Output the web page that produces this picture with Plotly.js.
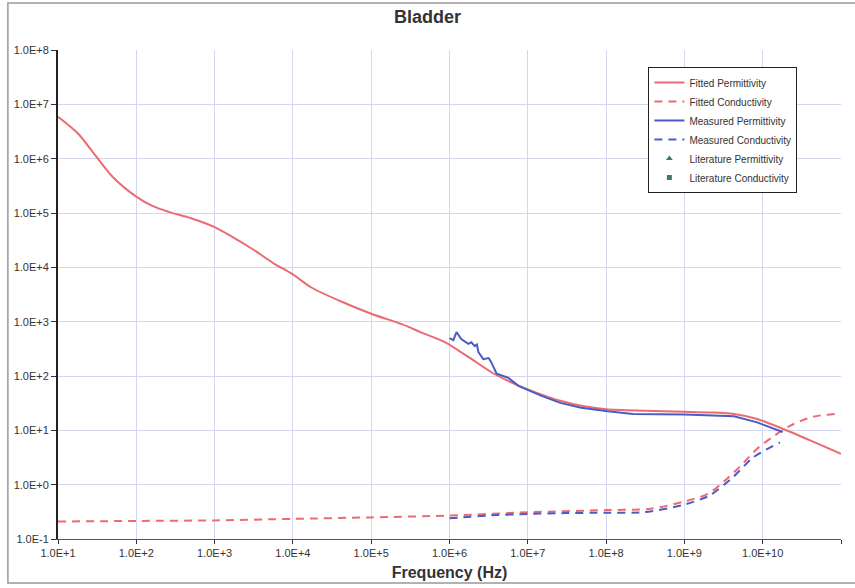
<!DOCTYPE html>
<html>
<head>
<meta charset="utf-8">
<script src="https://cdn.plot.ly/plotly-3.0.1.min.js"></script>
<style>html,body{margin:0;padding:0;background:#fff;}#chart{width:855px;height:588px;}</style>
</head>
<body>
<div id="chart"></div>
<script>
// Fitted permittivity (solid red)
const fitPermFreq = [10, 18, 30, 50, 100, 160, 260, 500, 1000, 1600, 3000, 5600, 1e4, 1.7e4, 4e4, 1e5, 2.5e5, 4.4e5, 8.7e5, 1.7e6, 3.7e6, 8.3e6, 1.6e7, 2.6e7, 5e7, 1e8, 3.2e8, 1e9, 2e9, 4.3e9, 8.5e9, 1.8e10, 4.4e10, 1e11];
const fitPerm = [5.9e6, 2.9e6, 1.15e6, 4.6e5, 2.0e5, 1.35e5, 1.05e5, 8.0e4, 5.5e4, 3.8e4, 2.2e4, 1.2e4, 7.4e3, 4.3e3, 2.4e3, 1.4e3, 890, 630, 420, 230, 110, 63, 44, 35, 28, 24.5, 23, 22, 21.4, 20, 16.2, 10.7, 6.2, 3.7];

// Fitted conductivity (dashed red)
const fitCondFreq = [10, 100, 1e3, 1e4, 1e5, 1e6, 1e7, 1e8, 3.7e8, 1e9, 2e9, 3.2e9, 5.2e9, 8.5e9, 1.4e10, 2.2e10, 4.4e10, 1e11];
const fitCond = [0.21, 0.215, 0.22, 0.235, 0.25, 0.27, 0.31, 0.34, 0.36, 0.49, 0.68, 1.15, 2.2, 4.6, 7.9, 12, 17.8, 20.5];

// Measured permittivity (solid blue)
const measPermFreq = [1e6, 1.12e6, 1.23e6, 1.32e6, 1.41e6, 1.74e6, 1.9e6, 2.1e6, 2.24e6, 2.34e6, 2.7e6, 3.16e6, 3.4e6, 4e6, 5.6e6, 7.6e6, 1.1e7, 1.5e7, 2.6e7, 4.8e7, 1.05e8, 2.2e8, 1e9, 4.3e9, 8.5e9, 1.8e10];
const measPerm = [500, 457, 645, 550, 480, 390, 417, 355, 380, 275, 204, 214, 182, 110, 93, 66, 52, 43, 32, 26, 22.4, 20, 19.5, 18.2, 14, 9.3];

// Measured conductivity (dashed blue)
const measCondFreq = [1e6, 1.5e6, 3e6, 1e7, 3e7, 1e8, 3e8, 9.5e8, 2.1e9, 4.2e9, 7.6e9, 1.66e10];
const measCond = [0.24, 0.25, 0.27, 0.29, 0.30, 0.305, 0.31, 0.42, 0.63, 1.38, 3.2, 6.0];

// Literature data (no points plotted for this tissue; listed in legend only)
const litPermFreq = [null];
const litPerm = [null];
const litCondFreq = [null];
const litCond = [null];

const xTickVals = [1e1, 1e2, 1e3, 1e4, 1e5, 1e6, 1e7, 1e8, 1e9, 1e10, 1e11];
const xTickText = ["1.0E+1", "1.0E+2", "1.0E+3", "1.0E+4", "1.0E+5", "1.0E+6", "1.0E+7", "1.0E+8", "1.0E+9", "1.0E+10", "1.0E+11"];
const yTickVals = [1e-1, 1e0, 1e1, 1e2, 1e3, 1e4, 1e5, 1e6, 1e7, 1e8];
const yTickText = ["1.0E-1", "1.0E+0", "1.0E+1", "1.0E+2", "1.0E+3", "1.0E+4", "1.0E+5", "1.0E+6", "1.0E+7", "1.0E+8"];

const RED = '#ec6a72';
const BLUE = '#4a5cc4';
const GREEN = '#3f7d55';

const traces = [
  {x: fitPermFreq, y: fitPerm, name: 'Fitted Permittivity', mode: 'lines', line: {color: RED, width: 2, shape: 'spline', smoothing: 0.8}},
  {x: fitCondFreq, y: fitCond, name: 'Fitted Conductivity', mode: 'lines', line: {color: RED, width: 2, dash: '8px,6px', shape: 'spline', smoothing: 0.8}},
  {x: measPermFreq, y: measPerm, name: 'Measured Permittivity', mode: 'lines', line: {color: BLUE, width: 2}},
  {x: measCondFreq, y: measCond, name: 'Measured Conductivity', mode: 'lines', line: {color: BLUE, width: 2, dash: '8px,6px', shape: 'spline', smoothing: 0.6}},
  {x: litPermFreq, y: litPerm, name: 'Literature Permittivity', mode: 'markers', marker: {color: GREEN, symbol: 'triangle-up', size: 6}},
  {x: litCondFreq, y: litCond, name: 'Literature Conductivity', mode: 'markers', marker: {color: GREEN, symbol: 'square', size: 5}}
];

const tickFont = {family: 'Arial, "Liberation Sans", sans-serif', size: 11, color: '#333'};

const layout = {
  width: 855, height: 588,
  margin: {l: 58, r: 14, t: 50, b: 49},
  paper_bgcolor: '#fff', plot_bgcolor: '#fff',
  title: {text: '<b>Bladder</b>', font: {family: 'Arial, "Liberation Sans", sans-serif', size: 18, color: '#333'}, x: 0.5, xanchor: 'center', y: 0.971, yanchor: 'middle'},
  xaxis: {
    type: 'log', range: [1, 11],
    tickvals: xTickVals, ticktext: xTickText, tickfont: tickFont,
    showgrid: true, gridcolor: '#d4d6ee', gridwidth: 1,
    showline: true, linecolor: '#555', linewidth: 1,
    ticks: 'outside', ticklen: 4, tickcolor: '#333',
    zeroline: false,
    title: {text: '<b>Frequency (Hz)</b>', font: {family: 'Arial, "Liberation Sans", sans-serif', size: 16, color: '#333'}, standoff: 8}
  },
  yaxis: {
    type: 'log', range: [-1, 8],
    tickvals: yTickVals, ticktext: yTickText, tickfont: tickFont,
    showgrid: true, gridcolor: '#d4d6ee', gridwidth: 1,
    showline: true, linecolor: '#222', linewidth: 2,
    ticks: 'outside', ticklen: 5, tickcolor: '#333',
    zeroline: false
  },
  legend: {
    x: 0.754, y: 0.965, xanchor: 'left', yanchor: 'top',
    bgcolor: '#fff', bordercolor: '#222', borderwidth: 1,
    font: {family: 'Arial, "Liberation Sans", sans-serif', size: 10, color: '#333'},
    tracegroupgap: 0
  },
  shapes: [
    {type: 'rect', xref: 'paper', yref: 'paper', x0: -0.064, x1: 1.03, y0: -0.09, y1: 1.096, line: {color: '#999', width: 1.5}, fillcolor: 'rgba(0,0,0,0)', layer: 'below'}
  ],
  showlegend: true
};

Plotly.newPlot('chart', traces, layout, {displayModeBar: false, staticPlot: true});
</script>
</body>
</html>
